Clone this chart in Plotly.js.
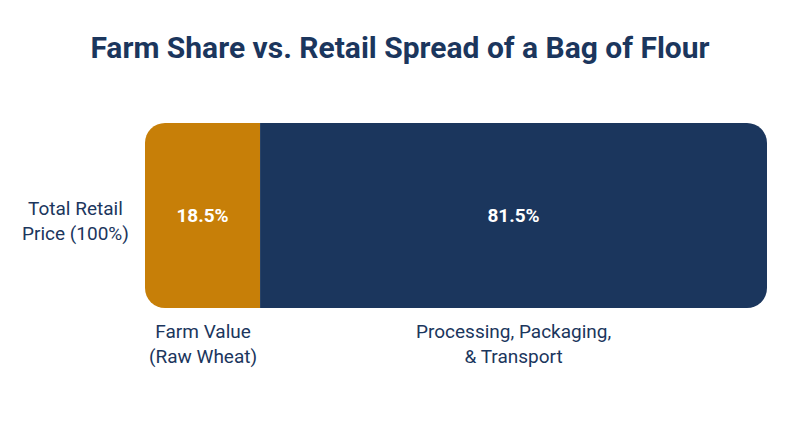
<!DOCTYPE html>
<html>
<head>
<meta charset="utf-8">
<script src="https://cdn.plot.ly/plotly-3.0.1.min.js"></script>
<style>html,body{margin:0;padding:0;background:#fff;}#chart{width:800px;height:447px;}</style>
</head>
<body>
<div id="chart"></div>
<script>
var category = ["Total Retail Price (100%)"];
var categoryLabel = ["Total Retail<br>Price (100%)"];
var segmentNames = ["Farm Value<br>(Raw Wheat)", "Processing, Packaging,<br>& Transport"];
var farmShare = [18.5];
var retailSpread = [81.5];

var navy = "#1B365D";
var orange = "#C77F08";
var font = "Roboto, 'Noto Sans', sans-serif";

// Farm share is stacked to the left of zero (relative mode) so both outer ends get rounded
var farmTrace = {
  type: "bar", orientation: "h",
  y: category,
  x: farmShare.map(function(v){ return -v; }),
  width: 1,
  marker: {color: orange, line: {width: 0}},
  text: farmShare.map(function(v){ return v.toFixed(1) + "%"; }),
  textposition: "inside", insidetextanchor: "middle",
  textfont: {family: font, size: 19, color: "#ffffff", weight: 700},
  hoverinfo: "skip", showlegend: false
};
var spreadTrace = {
  type: "bar", orientation: "h",
  y: category,
  x: retailSpread,
  width: 1,
  marker: {color: navy, line: {width: 0}},
  text: retailSpread.map(function(v){ return v.toFixed(1) + "%"; }),
  textposition: "inside", insidetextanchor: "middle",
  textfont: {family: font, size: 19, color: "#ffffff", weight: 700},
  hoverinfo: "skip", showlegend: false
};

var annotations = [
  {xref: "paper", x: -0.112, xanchor: "center", yref: "y", y: category[0], yanchor: "middle",
   yshift: -5, text: categoryLabel[0], showarrow: false, align: "center",
   font: {family: font, size: 19, color: navy}},
  {xref: "x", x: -farmShare[0] / 2, xanchor: "center", yref: "paper", y: -0.055, yanchor: "top",
   text: segmentNames[0], showarrow: false, align: "center",
   font: {family: font, size: 19, color: navy}},
  {xref: "x", x: retailSpread[0] / 2, xanchor: "center", yref: "paper", y: -0.055, yanchor: "top",
   text: segmentNames[1], showarrow: false, align: "center",
   font: {family: font, size: 19, color: navy}}
];

var layout = {
  width: 800, height: 447,
  paper_bgcolor: "#ffffff", plot_bgcolor: "#ffffff",
  margin: {l: 145, r: 33, t: 123, b: 139},
  barmode: "relative",
  barcornerradius: 20,
  title: {text: "<b>Farm Share vs. Retail Spread of a Bag of Flour</b>", x: 0.5, xanchor: "center",
          y: 0.893, yanchor: "middle", yref: "container",
          font: {family: font, size: 30, color: navy}},
  xaxis: {range: [-farmShare[0], retailSpread[0]], visible: false, fixedrange: true},
  yaxis: {range: [-0.5, 0.5], visible: false, fixedrange: true},
  annotations: annotations,
  font: {family: font}
};

Plotly.newPlot("chart", [farmTrace, spreadTrace], layout, {displayModeBar: false, staticPlot: true});
</script>
</body>
</html>
